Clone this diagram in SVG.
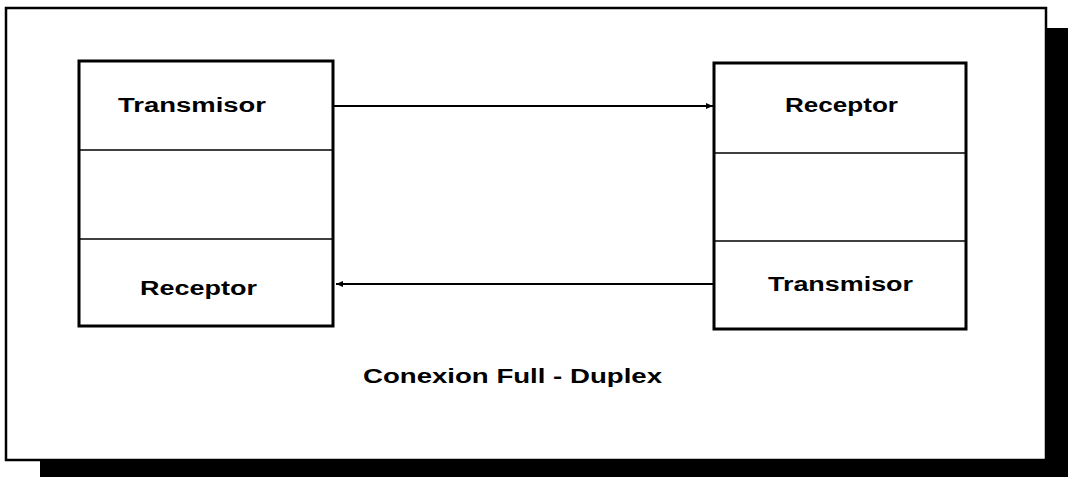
<svg xmlns="http://www.w3.org/2000/svg" width="1068" height="477" viewBox="0 0 1068 477">
<style>
.box{fill:#fff;stroke:#000;stroke-width:3}
.div{stroke:#000;stroke-width:1.6}
.lbl{font-family:"Liberation Sans",Arial,sans-serif;font-weight:bold;font-size:19.5px;fill:#000}
.cap{font-family:"Liberation Sans",Arial,sans-serif;font-weight:bold;font-size:20px;fill:#000}
.conn{stroke:#000;stroke-width:2;fill:none}
</style>
<defs>
<marker id="ah" markerWidth="8" markerHeight="8" refX="7" refY="4" orient="auto" markerUnits="userSpaceOnUse">
<path d="M0,1 L7,4 L0,7 Z" fill="#000"/>
</marker>
</defs>
<g id="frame">
<rect x="40" y="28" width="1028" height="449" fill="#000"/>
<rect x="6" y="8" width="1040" height="452" fill="#fff" stroke="#000" stroke-width="2.5"/>
</g>
<g id="left-node">
<rect class="box" x="79" y="61" width="254" height="265"/>
<line class="div" x1="79" y1="150" x2="333" y2="150"/>
<line class="div" x1="79" y1="239" x2="333" y2="239"/>
<text class="lbl" x="118" y="112" textLength="148" lengthAdjust="spacingAndGlyphs">Transmisor</text>
<text class="lbl" x="140" y="295" textLength="117" lengthAdjust="spacingAndGlyphs">Receptor</text>
</g>
<g id="right-node">
<rect class="box" x="714" y="63" width="252" height="266"/>
<line class="div" x1="714" y1="153" x2="966" y2="153"/>
<line class="div" x1="714" y1="241" x2="966" y2="241"/>
<text class="lbl" x="785" y="112" textLength="113" lengthAdjust="spacingAndGlyphs">Receptor</text>
<text class="lbl" x="768" y="291" textLength="145" lengthAdjust="spacingAndGlyphs">Transmisor</text>
</g>
<g id="connectors">
<line class="conn" x1="334" y1="106" x2="713" y2="106" marker-end="url(#ah)"/>
<line class="conn" x1="713" y1="284" x2="336" y2="284" marker-end="url(#ah)"/>
</g>
<g id="caption">
<text class="cap" x="363" y="383" textLength="299" lengthAdjust="spacingAndGlyphs">Conexion Full - Duplex</text>
</g>
</svg>
